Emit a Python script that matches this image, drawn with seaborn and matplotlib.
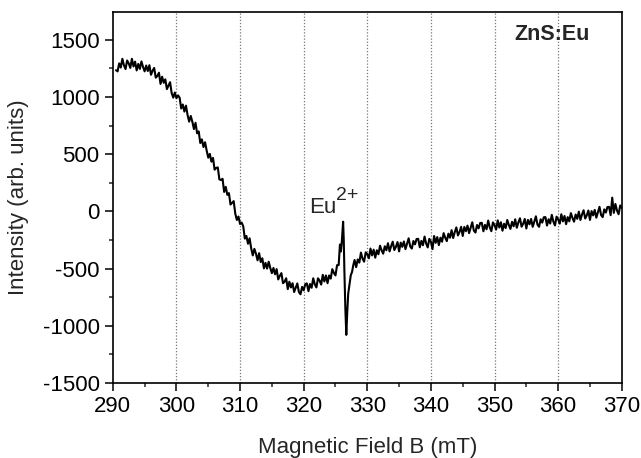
import numpy as np
import pandas as pd
import matplotlib
matplotlib.use("Agg")
import matplotlib.pyplot as plt
import seaborn as sns
from matplotlib.ticker import MultipleLocator

field_low = np.linspace(290.5, 325.5, 141)
int_low = [1235, 1225, 1295, 1258, 1335, 1278, 1245, 1320, 1295, 1255,
           1335, 1268, 1310, 1233, 1290, 1246, 1312, 1263, 1225, 1276,
           1228, 1279, 1195, 1230, 1255, 1170, 1185, 1213, 1115, 1178,
           1125, 1155, 1070, 1100, 1130, 1035, 995, 1040, 990, 1015,
           995, 900, 935, 873, 925, 843, 785, 835, 785, 720,
           775, 683, 700, 598, 630, 563, 605, 533, 470, 503,
           435, 468, 365, 380, 385, 280, 275, 285, 170, 215,
           145, 160, 60, 75, 90, -20, -75, -45, -110, -98,
           -130, -238, -215, -283, -235, -323, -385, -328, -370, -428,
           -365, -443, -410, -498, -450, -500, -440, -495, -540, -495,
           -550, -505, -595, -563, -540, -628, -615, -585, -680, -615,
           -665, -628, -705, -668, -630, -705, -725, -660, -690, -638,
           -630, -698, -635, -668, -585, -638, -665, -585, -605, -640,
           -555, -613, -560, -628, -560, -588, -505, -538, -560, -470,
           -470]

field_line = [325.7, 325.85, 326.0, 326.1, 326.2, 326.3, 326.4, 326.55, 326.7,
              326.85, 327.0, 327.2, 327.4, 327.6, 327.8]
int_line = [-290, -350, -260, -170, -90, -250, -520, -850, -1080,
            -880, -720, -640, -560, -530, -470]

field_high = np.linspace(328.0, 370.0, 169)
int_high = [-425, -488, -420, -448, -360, -413, -440, -358, -375, -410,
            -325, -385, -335, -405, -340, -375, -300, -340, -370, -305,
            -340, -278, -350, -303, -265, -338, -310, -268, -350, -273,
            -310, -263, -330, -283, -235, -308, -325, -259, -288, -241,
            -240, -314, -258, -296, -220, -280, -315, -240, -265, -330,
            -215, -275, -225, -295, -230, -265, -190, -230, -260, -195,
            -230, -164, -233, -181, -140, -210, -180, -135, -215, -136,
            -173, -124, -190, -143, -95, -168, -185, -119, -148, -101,
            -100, -174, -118, -156, -80, -139, -173, -96, -120, -159,
            -78, -141, -95, -169, -108, -146, -75, -119, -153, -91,
            -130, -69, -143, -96, -60, -134, -108, -66, -150, -74,
            -113, -66, -135, -89, -43, -116, -135, -69, -98, -51,
            -50, -124, -68, -106, -30, -89, -123, -46, -70, -107,
            -25, -87, -40, -112, -50, -87, -15, -57, -90, -27,
            -65, -2, -75, -27, 10, -62, -35, 8, -75, 3,
            -35, 13, -55, -7, 40, -32, -50, 18, -10, 38,
            40, -33, 120, -13, 65, 7, -25, 52, 30]

xticks = [290, 300, 310, 320, 330, 340, 350, 360, 370]
yticks = [-1500, -1000, -500, 0, 500, 1000, 1500]
grid_lines = [300, 310, 320, 330, 340, 350, 360]

df = pd.DataFrame({
    "B": list(field_low) + field_line + list(field_high),
    "I": int_low + int_line + int_high,
})

sns.set_style("ticks")
plt.rcParams["font.family"] = ["Liberation Sans", "DejaVu Sans"]
plt.rcParams["axes.unicode_minus"] = False

fig = plt.figure(figsize=(6.41, 4.58), dpi=100)
ax = fig.add_axes([0.176, 0.164, 0.794, 0.810])

for g in grid_lines:
    ax.axvline(g, color="#777777", linestyle=(0, (1, 1.5)), linewidth=0.9, zorder=0)

sns.lineplot(data=df, x="B", y="I", ax=ax, color="black", linewidth=1.5,
             sort=False, estimator=None)

ax.set_xlim(290, 370)
ax.set_ylim(-1500, 1745)
ax.set_xticks(xticks)
ax.set_yticks(yticks)
ax.xaxis.set_minor_locator(MultipleLocator(5))
ax.yaxis.set_minor_locator(MultipleLocator(250))
ax.tick_params(axis="both", which="major", direction="out", length=6, width=1.1,
               labelsize=16, colors="black")
ax.tick_params(axis="both", which="minor", direction="out", length=3.2, width=1.1)
ax.tick_params(top=False, right=False, which="both")
for s in ax.spines.values():
    s.set_visible(True)
    s.set_linewidth(1.2)
    s.set_color("black")

ax.set_xlabel("Magnetic Field B (mT)", fontsize=16, labelpad=14)
ax.set_ylabel("Intensity (arb. units)", fontsize=16, labelpad=10)

ax.text(0.937, 0.94, "ZnS:Eu", transform=ax.transAxes, ha="right", va="center",
        fontsize=15.5, fontweight="bold")
ax.text(320.8, -10, "Eu", ha="left", va="baseline", fontsize=16)
ax.text(325.1, 96, "2+", ha="left", va="baseline", fontsize=14)

fig.savefig("out.png", dpi=100)
